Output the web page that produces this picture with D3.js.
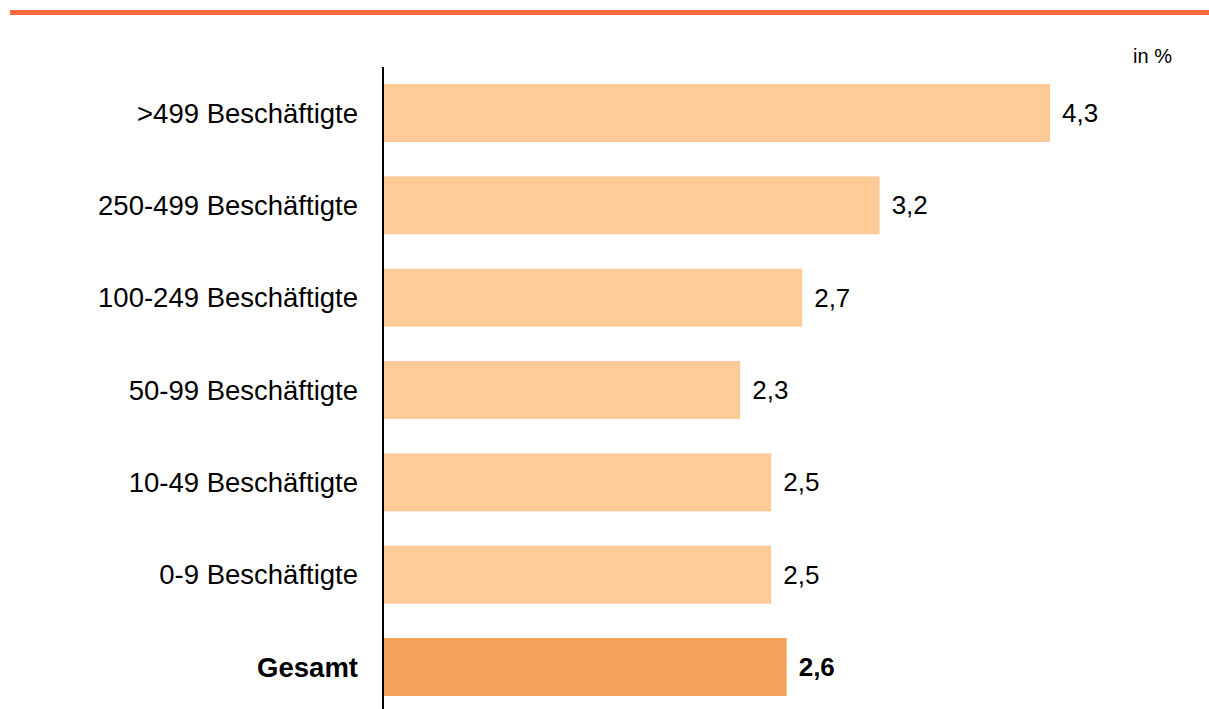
<!DOCTYPE html>
<html>
<head>
<meta charset="utf-8">
<script src="https://cdn.jsdelivr.net/npm/d3@7"></script>
<style>
  body { margin: 0; background: #fff; }
  svg { display: block; font-family: "Liberation Sans", Arial, sans-serif; }
</style>
</head>
<body>
<svg width="1209" height="709"></svg>
<script>
var categories = [">499 Beschäftigte", "250-499 Beschäftigte", "100-249 Beschäftigte",
                  "50-99 Beschäftigte", "10-49 Beschäftigte", "0-9 Beschäftigte", "Gesamt"];
var values = [4.3, 3.2, 2.7, 2.3, 2.5, 2.5, 2.6];
var valueLabels = ["4,3", "3,2", "2,7", "2,3", "2,5", "2,5", "2,6"];
var unitLabel = "in %";

var svg = d3.select("svg");

// orange rule at the top
svg.append("rect")
    .attr("x", 10).attr("y", 10)
    .attr("width", 1199).attr("height", 5)
    .attr("fill", "#fb6a3b");

var x = d3.scaleLinear().domain([0, 4.3]).range([384, 1050]);
var y = d3.scaleBand().domain(categories).range([84, 696]).paddingInner(0.372).paddingOuter(0);

var bars = svg.selectAll(".bar")
  .data(categories)
  .enter().append("g")
    .attr("class", "bar");

bars.append("rect")
    .attr("x", x(0))
    .attr("y", function(d) { return y(d); })
    .attr("width", function(d, i) { return x(values[i]) - x(0); })
    .attr("height", y.bandwidth())
    .attr("fill", function(d) { return d == "Gesamt" ? "#f4a259" : "#fecb98"; });

bars.append("text")
    .attr("x", function(d, i) { return x(values[i]) + 12; })
    .attr("y", function(d) { return y(d) + y.bandwidth() / 2; })
    .attr("dy", "0.35em")
    .style("font-size", "26px")
    .style("font-weight", function(d) { return d == "Gesamt" ? "bold" : "normal"; })
    .text(function(d, i) { return valueLabels[i]; });

// category labels
svg.append("g").selectAll("text")
  .data(categories)
  .enter().append("text")
    .attr("x", 358)
    .attr("y", function(d) { return y(d) + y.bandwidth() / 2; })
    .attr("dy", "0.35em")
    .attr("text-anchor", "end")
    .style("font-size", "27.5px")
    .style("font-weight", function(d) { return d == "Gesamt" ? "bold" : "normal"; })
    .text(function(d) { return d; });

// vertical axis line
svg.append("line")
    .attr("x1", 383).attr("x2", 383)
    .attr("y1", 67).attr("y2", 709)
    .attr("stroke", "#000")
    .attr("stroke-width", 2);

svg.append("text")
    .attr("x", 1172).attr("y", 63)
    .attr("text-anchor", "end")
    .style("font-size", "20px")
    .text(unitLabel);
</script>
</body>
</html>
